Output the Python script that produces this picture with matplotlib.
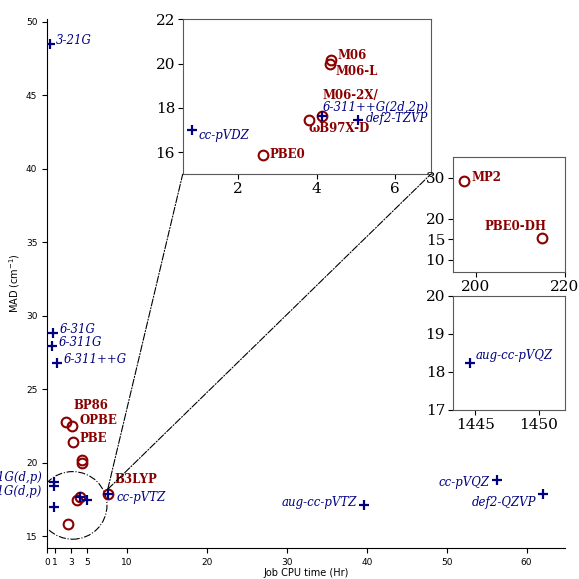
import matplotlib.pyplot as plt
from matplotlib.patches import Ellipse, ConnectionPatch

# basis sets (plus markers): name, CPU time (hr), MAD (cm-1)
basis_names = ["3-21G", "6-31G", "6-311G", "6-311++G", "6-31G(d,p)", "6-311G(d,p)",
               "cc-pVDZ", "6-311++G(2d,2p)", "def2-TZVP", "cc-pVTZ", "aug-cc-pVTZ",
               "cc-pVQZ", "def2-QZVP", "aug-cc-pVQZ"]
basis_time = [0.4, 0.8, 0.6, 1.3, 0.85, 0.85, 0.84, 4.14, 5.05, 7.66, 39.7, 56.3, 62.0, 1444.6]
basis_mad = [48.5, 28.8, 27.96, 26.8, 18.7, 18.4, 17.0, 17.64, 17.46, 17.9, 17.1, 18.8, 17.86, 18.23]

# functionals (circle markers)
func_names = ["BP86", "OPBE", "PBE", "M06", "M06-L", "M06-2X/", "ωB97X-D", "PBE0",
              "B3LYP", "MP2", "PBE0-DH"]
func_time = [2.4, 3.1, 3.25, 4.36, 4.35, 4.14, 3.8, 2.63, 7.66, 197.45, 214.8]
func_mad = [22.8, 22.5, 21.4, 20.18, 19.96, 17.64, 17.46, 15.85, 17.9, 29.2, 15.3]

# which points go in the zoomed panels
zoom_basis = ["cc-pVDZ", "6-311++G(2d,2p)", "def2-TZVP", "aug-cc-pVQZ"]
zoom_func = ["M06", "M06-L", "M06-2X/", "ωB97X-D", "PBE0", "MP2", "PBE0-DH"]

blue = "#000080"
red = "#8b0000"

# label placement: name -> (axes key, dx pt, dy pt, ha)
basis_lab = {"3-21G": ("main", 4, 2.4, "left"), "6-31G": ("main", 4.3, 2.9, "left"),
             "6-311G": ("main", 4.8, 2.7, "left"), "6-311++G": ("main", 4.3, 2.4, "left"),
             "6-31G(d,p)": ("main", -8, 3, "right"), "6-311G(d,p)": ("main", -8.6, -3.6, "right"),
             "cc-pVTZ": ("main", 6, -2.9, "left"), "aug-cc-pVTZ": ("main", -5.3, 2.4, "right"),
             "cc-pVQZ": ("main", -5.3, -1.7, "right"), "def2-QZVP": ("main", -4.3, -6, "right"),
             "cc-pVDZ": ("in1", 4.8, -4.3, "left"), "6-311++G(2d,2p)": ("in1", 0.4, 6.3, "left"),
             "def2-TZVP": ("in1", 5.5, 1.2, "left"), "aug-cc-pVQZ": ("in3", 4.1, 5.3, "left")}
func_lab = {"BP86": ("main", 5.3, 11.5, "left"), "OPBE": ("main", 5.3, 3.8, "left"),
            "PBE": ("main", 4.5, 2.9, "left"), "B3LYP": ("main", 4.8, 10.4, "left"),
            "M06": ("in1", 4.6, 2.9, "left"), "M06-L": ("in1", 3.6, -5.3, "left"),
            "M06-2X/": ("in1", 0.4, 14.4, "left"), "ωB97X-D": ("in1", 0, -6.5, "left"),
            "PBE0": ("in1", 4.8, 0.7, "left"), "MP2": ("in2", 5.3, 2.4, "left"),
            "PBE0-DH": ("in2", 3, 8.6, "right")}

fig = plt.figure(figsize=(5.79, 5.79), dpi=100)
ax = fig.add_axes([0.0812, 0.0535, 0.8946, 0.9137])
in1 = fig.add_axes([0.3155, 0.699, 0.4283, 0.2677])
in2 = fig.add_axes([0.7819, 0.5297, 0.194, 0.1986])
in3 = fig.add_axes([0.7819, 0.2919, 0.194, 0.1974])
axes = {"main": ax, "in1": in1, "in2": in2, "in3": in3}

zb = [i for i, n in enumerate(basis_names) if n in zoom_basis]
zf = [i for i, n in enumerate(func_names) if n in zoom_func]

ax.plot(basis_time, basis_mad, "+", color=blue, ms=7, mew=1.6, ls="none", zorder=3)
ax.plot(func_time, func_mad, "o", mfc="none", mec=red, ms=7, mew=1.5, ls="none", zorder=2)
for a in [in1, in2, in3]:
    a.plot([basis_time[i] for i in zb], [basis_mad[i] for i in zb], "+", color=blue,
           ms=7, mew=1.6, ls="none", zorder=3)
    a.plot([func_time[i] for i in zf], [func_mad[i] for i in zf], "o", mfc="none",
           mec=red, ms=7, mew=1.5, ls="none", zorder=2)

for i, n in enumerate(basis_names):
    if n in basis_lab:
        k, dx, dy, ha = basis_lab[n]
        axes[k].annotate(n, (basis_time[i], basis_mad[i]), xytext=(dx, dy),
                         textcoords="offset points", ha=ha, va="center", color=blue,
                         family="DejaVu Serif", style="italic", fontsize=8.5,
                         annotation_clip=False)
for i, n in enumerate(func_names):
    if n in func_lab:
        k, dx, dy, ha = func_lab[n]
        axes[k].annotate(n, (func_time[i], func_mad[i]), xytext=(dx, dy),
                         textcoords="offset points", ha=ha, va="center", color=red,
                         family="DejaVu Serif", weight="bold", fontsize=8.5,
                         annotation_clip=False)

# main axes
ax.set_xlim(0, 64.8)
ax.set_ylim(14.2, 50.2)
ax.set_xticks([0, 1, 3, 5, 10, 20, 30, 40, 50, 60])
ax.set_yticks([15, 20, 25, 30, 35, 40, 45, 50])
ax.tick_params(labelsize=6.5)
ax.spines["top"].set_visible(False)
ax.spines["right"].set_visible(False)
ax.set_xlabel("Job CPU time (Hr)", fontsize=7, labelpad=1)
ax.set_ylabel("MAD (cm$^{-1}$)", fontsize=7, labelpad=3)
ax.add_patch(Ellipse((3.2, 17.1), 8.6, 4.6, fill=False, ls="-.", color="k", lw=0.8))

# insets
in1.set_xlim(0.6, 6.9)
in1.set_ylim(15, 22)
in1.set_xticks([2, 4, 6])
in1.set_yticks([16, 18, 20, 22])
in2.set_xlim(194.85, 220)
in2.set_ylim(7, 35)
in2.set_xticks([200, 220])
in2.set_yticks([10, 15, 20, 30])
in3.set_xlim(1443.2, 1452.1)
in3.set_ylim(17, 20)
in3.set_xticks([1445, 1450])
in3.set_yticks([17, 18, 19, 20])
for a in [in1, in2, in3]:
    for s in a.spines.values():
        s.set_color("0.35")
    a.tick_params(labelsize=11, pad=2)
    for lab in a.get_xticklabels() + a.get_yticklabels():
        lab.set_family("DejaVu Serif")

for corner in [(0, 0), (1, 0)]:
    con = ConnectionPatch(xyA=(7.6, 18.2), coordsA=ax.transData, xyB=corner,
                          coordsB=in1.transAxes, ls="-.", color="k", lw=0.8)
    fig.add_artist(con)

plt.savefig("out.png", dpi=100)
